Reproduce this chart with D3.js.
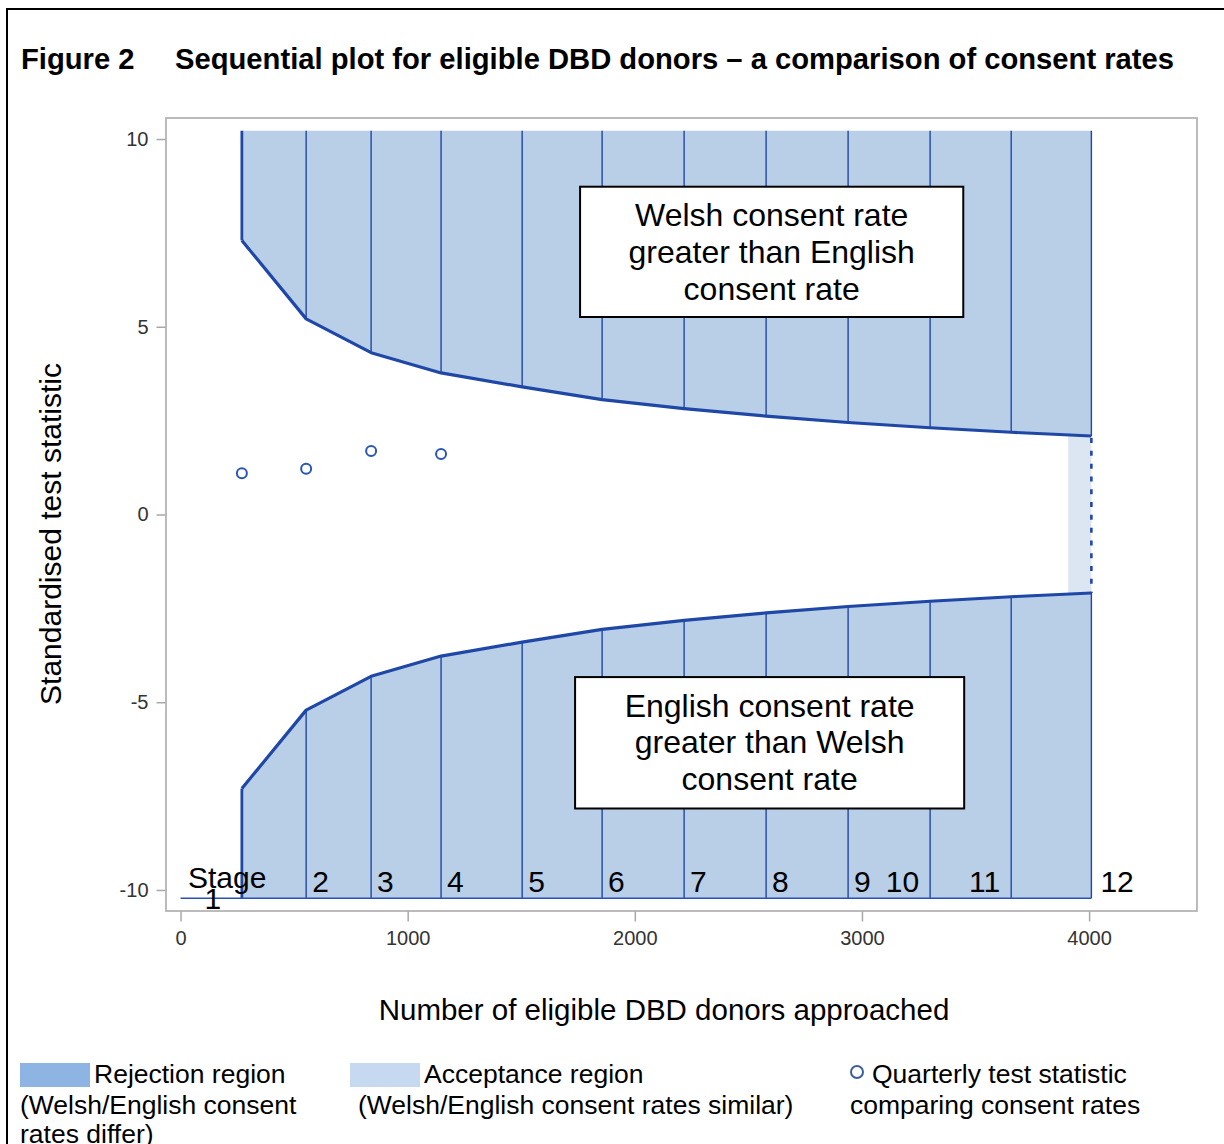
<!DOCTYPE html>
<html>
<head>
<meta charset="utf-8">
<script src="https://cdn.jsdelivr.net/npm/d3@7"></script>
<style>
  html, body { margin: 0; padding: 0; background: #fff; }
  svg { display: block; font-family: "Liberation Sans", Arial, sans-serif; }
</style>
</head>
<body>
<svg id="chart" width="1224" height="1144"></svg>
<script>
// Cumulative number of eligible DBD donors approached at each analysis stage
const stageN = [270, 553, 839, 1147, 1504, 1856, 2217, 2578, 2939, 3300, 3657, 4010];
const stageLabels = ["1", "2", "3", "4", "5", "6", "7", "8", "9", "10", "11", "12"];
// Upper / lower critical boundaries of the standardised test statistic
const upperBound = [7.30, 5.21, 4.31, 3.77, 3.40, 3.06, 2.82, 2.62, 2.45, 2.31, 2.19, 2.09];
const lowerBound = [-7.30, -5.21, -4.31, -3.77, -3.40, -3.06, -2.82, -2.62, -2.45, -2.31, -2.19, -2.09];
// Observed quarterly test statistics
const quarterN = [270, 553, 839, 1147];
const quarterZ = [1.10, 1.22, 1.69, 1.61];
// Outer extent of the rejection regions and start of the acceptance band
const regionTop = 10.22;
const regionBottom = -10.22;
const acceptStart = 3908;
// Axis ticks
const xTicks = [0, 1000, 2000, 3000, 4000];
const yTicks = [-10, -5, 0, 5, 10];

const svg = d3.select("#chart");
const lineBlue = "#1f47a6";
const fillBlue = "#b9cee7";

// Outer figure border
svg.append("rect").attr("x", 7).attr("y", 9).attr("width", 1240).attr("height", 1200)
  .attr("fill", "none").attr("stroke", "#000").attr("stroke-width", 2);

// Title
const title = svg.append("text").attr("y", 69).attr("font-size", 29.2).attr("font-weight", "bold").attr("fill", "#000");
title.append("tspan").attr("x", 21).text("Figure 2");
title.append("tspan").attr("x", 175).text("Sequential plot for eligible DBD donors \u2013 a comparison of consent rates");

const plot = { left: 166, top: 118, right: 1197, bottom: 911 };
const x = d3.scaleLinear().domain([-64, 4475]).range([plot.left, plot.right]);
const y = d3.scaleLinear().domain([-10.56, 10.56]).range([plot.bottom, plot.top]);

const idx = d3.range(stageN.length);

// Upper rejection region
const upperArea = d3.area()
  .x(i => x(stageN[i]))
  .y0(() => y(regionTop))
  .y1(i => y(upperBound[i]));
svg.append("path").attr("d", upperArea(idx)).attr("fill", fillBlue);

// Lower rejection region
const lowerArea = d3.area()
  .x(i => x(stageN[i]))
  .y0(() => y(regionBottom))
  .y1(i => y(lowerBound[i]));
svg.append("path").attr("d", lowerArea(idx)).attr("fill", fillBlue);

// Acceptance band at the final stage
const last = stageN.length - 1;
svg.append("rect")
  .attr("x", x(acceptStart))
  .attr("y", y(upperBound[last]))
  .attr("width", x(stageN[last]) - x(acceptStart))
  .attr("height", y(lowerBound[last]) - y(upperBound[last]))
  .attr("fill", "#dce6f2");

// Stage separators inside the rejection regions
idx.forEach(i => {
  const w = i === 0 ? 2.8 : 1.4;
  svg.append("line")
    .attr("x1", x(stageN[i])).attr("x2", x(stageN[i]))
    .attr("y1", y(regionTop)).attr("y2", y(upperBound[i]))
    .attr("stroke", lineBlue).attr("stroke-width", w);
  svg.append("line")
    .attr("x1", x(stageN[i])).attr("x2", x(stageN[i]))
    .attr("y1", y(lowerBound[i])).attr("y2", y(regionBottom))
    .attr("stroke", lineBlue).attr("stroke-width", w);
});

// Baseline along the bottom of the lower region
svg.append("line")
  .attr("x1", x(0)).attr("x2", x(stageN[last]))
  .attr("y1", y(regionBottom)).attr("y2", y(regionBottom))
  .attr("stroke", "#2a52b5").attr("stroke-width", 1.4);

// Boundary curves
const boundLine = d3.line().x(i => x(stageN[i]));
svg.append("path").attr("d", boundLine.y(i => y(upperBound[i]))(idx))
  .attr("fill", "none").attr("stroke", lineBlue).attr("stroke-width", 3.2).attr("stroke-linejoin", "round");
svg.append("path").attr("d", boundLine.y(i => y(lowerBound[i]))(idx))
  .attr("fill", "none").attr("stroke", lineBlue).attr("stroke-width", 3.2).attr("stroke-linejoin", "round");

// Dotted final-stage acceptance edge
svg.append("line")
  .attr("x1", x(stageN[last])).attr("x2", x(stageN[last]))
  .attr("y1", y(upperBound[last]) + 2).attr("y2", y(lowerBound[last]))
  .attr("stroke", lineBlue).attr("stroke-width", 2.6).attr("stroke-dasharray", "5,7.8");

// Plot frame
svg.append("rect")
  .attr("x", plot.left).attr("y", plot.top)
  .attr("width", plot.right - plot.left).attr("height", plot.bottom - plot.top)
  .attr("fill", "none").attr("stroke", "#b4b4b4").attr("stroke-width", 1.8);

// Axes (plain hyphen for negative values)
const fmt = d => String(d);
const yAxis = d3.axisLeft(y).tickValues(yTicks).tickSize(9).tickPadding(8).tickFormat(fmt);
const gy = svg.append("g").attr("transform", `translate(${plot.left - 0.5},0)`).call(yAxis);
gy.select(".domain").remove();
gy.selectAll(".tick line").attr("stroke", "#a8a8a8").attr("stroke-width", 1.5);
gy.selectAll(".tick text").attr("font-size", 20).attr("fill", "#333")
  .attr("font-family", "Liberation Sans, Arial, sans-serif");

const xAxis = d3.axisBottom(x).tickValues(xTicks).tickSize(10).tickPadding(9).tickFormat(fmt);
const gx = svg.append("g").attr("transform", `translate(0,${plot.bottom + 0.5})`).call(xAxis);
gx.select(".domain").remove();
gx.selectAll(".tick line").attr("stroke", "#a8a8a8").attr("stroke-width", 1.5);
gx.selectAll(".tick text").attr("font-size", 20).attr("fill", "#333")
  .attr("font-family", "Liberation Sans, Arial, sans-serif");

// Axis titles
svg.append("text").attr("transform", "translate(61,534) rotate(-90)")
  .attr("text-anchor", "middle").attr("font-size", 30).attr("fill", "#000")
  .text("Standardised test statistic");
svg.append("text").attr("x", 664).attr("y", 1020)
  .attr("text-anchor", "middle").attr("font-size", 29.5).attr("fill", "#000")
  .text("Number of eligible DBD donors approached");

// Quarterly test statistics
svg.selectAll("circle.q").data(d3.range(quarterN.length)).join("circle")
  .attr("class", "q")
  .attr("cx", i => x(quarterN[i])).attr("cy", i => y(quarterZ[i]))
  .attr("r", 5).attr("fill", "none").attr("stroke", "#2a55b8").attr("stroke-width", 2);

// Stage labels along the bottom
const labelY = y(-10.06);
svg.append("text").attr("x", 188).attr("y", labelY - 4).attr("font-size", 30).attr("fill", "#000").text("Stage");
idx.forEach(i => {
  let xx, anchor, yy = labelY;
  if (i === 0) { xx = x(stageN[0]) - 29; anchor = "middle"; yy = labelY + 17; }
  else if (i === 9 || i === 10) { xx = x(stageN[i]) - 11; anchor = "end"; }
  else { xx = x(stageN[i]) + 6; anchor = "start"; }
  if (i === last) xx = x(stageN[i]) + 9;
  svg.append("text").attr("x", xx).attr("y", yy).attr("text-anchor", anchor)
    .attr("font-size", 30).attr("fill", "#000").text(stageLabels[i]);
});

// Region annotation boxes
function noteBox(x0, x1, yTop, yBot, lines) {
  const bx = x(x0), bw = x(x1) - x(x0), by = y(yTop), bh = y(yBot) - y(yTop);
  svg.append("rect").attr("x", bx).attr("y", by).attr("width", bw).attr("height", bh)
    .attr("fill", "#fff").attr("stroke", "#000").attr("stroke-width", 2);
  const cx = bx + bw / 2;
  lines.forEach((t, k) => {
    svg.append("text").attr("x", cx).attr("y", by + 39.5 + k * 36.8)
      .attr("text-anchor", "middle").attr("font-size", 32).attr("fill", "#000").text(t);
  });
}
noteBox(1759, 3446, 8.73, 5.26, ["Welsh consent rate", "greater than English", "consent rate"]);
noteBox(1737, 3450, -4.33, -7.83, ["English consent rate", "greater than Welsh", "consent rate"]);

// Legend
const lg = svg.append("g").attr("font-size", 26.5).attr("fill", "#000");
lg.append("rect").attr("x", 20).attr("y", 1063).attr("width", 70).attr("height", 24).attr("fill", "#8db4e2");
lg.append("text").attr("x", 94).attr("y", 1083).text("Rejection region");
lg.append("text").attr("x", 20).attr("y", 1114).text("(Welsh/English consent");
lg.append("text").attr("x", 20).attr("y", 1143).text("rates differ)");
lg.append("rect").attr("x", 350).attr("y", 1063).attr("width", 70).attr("height", 24).attr("fill", "#c6d9f1");
lg.append("text").attr("x", 424).attr("y", 1083).text("Acceptance region");
lg.append("text").attr("x", 358).attr("y", 1114).text("(Welsh/English consent rates similar)");
lg.append("circle").attr("cx", 857).attr("cy", 1072).attr("r", 6).attr("fill", "none")
  .attr("stroke", "#3b5f98").attr("stroke-width", 2);
lg.append("text").attr("x", 872).attr("y", 1083).text("Quarterly test statistic");
lg.append("text").attr("x", 850).attr("y", 1114).text("comparing consent rates");
</script>
</body>
</html>
